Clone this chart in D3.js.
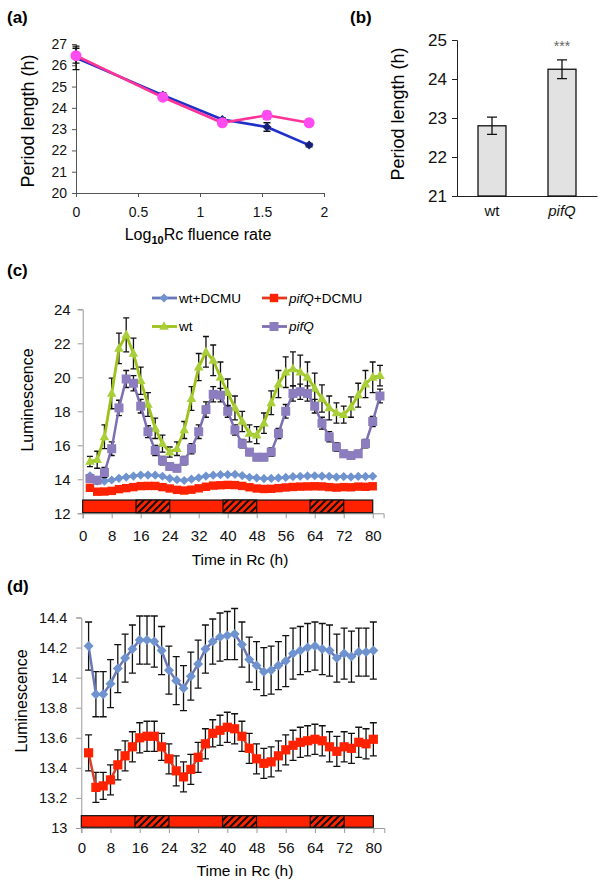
<!DOCTYPE html>
<html>
<head>
<meta charset="utf-8">
<script src="https://cdn.jsdelivr.net/npm/d3@7"></script>
<style>
  body { margin: 0; background: #fff; }
  svg { font-family: "Liberation Sans", Arial, sans-serif; }
</style>
</head>
<body>
<svg id="fig" width="604" height="888"></svg>
<script>
// ---- (a) period vs fluence
const fluence = [0, 0.7, 1.18, 1.54, 1.88];
const wtPeriod = [26.35, 24.6, 23.45, 23.1, 22.25];
const wtPeriodErr = [0.55, 0.1, 0.08, 0.2, 0.08];
const pifPeriod = [26.45, 24.5, 23.3, 23.65, 23.3];
const pifPeriodErr = [0.35, 0.1, 0.08, 0.18, 0.08];
const fluenceTicks = [0, 0.5, 1, 1.5, 2];

// ---- (b) mean period
const genotypes = ["wt", "pifQ"];
const meanPeriod = [22.8, 24.25];
const meanPeriodErr = [0.22, 0.24];

// ---- (c) luminescence traces
const timeC = [2, 4, 6, 8, 10, 12, 14, 16, 18, 20, 22, 24, 26, 28, 30, 32, 34, 36, 38, 40,
  42, 44, 46, 48, 50, 52, 54, 56, 58, 60, 62, 64, 66, 68, 70, 72, 74, 76, 78, 80, 82];
const wtLum = [15.05, 15.15, 16.5, 19.05, 21.7, 22.5, 21.4, 19.8, 18.4, 17.0,
  16.1, 15.6, 15.8, 16.9, 18.75, 20.6, 21.5, 21.0, 20.0, 19.1,
  18.2, 17.4, 16.7, 16.6, 17.3, 18.5, 19.6, 20.3, 20.5, 20.3,
  20.0, 19.35, 18.75, 18.2, 17.9, 17.8, 18.25, 18.95, 19.6, 20.0, 20.1];
const wtLumErr = [0.3, 0.5, 0.7, 0.9, 0.9, 1.0, 0.9, 0.8, 0.7, 0.6,
  0.5, 0.3, 0.4, 0.5, 0.7, 0.8, 0.9, 0.9, 0.9, 0.8,
  0.7, 0.6, 0.5, 0.5, 0.6, 0.7, 0.8, 0.9, 1.0, 1.0,
  0.9, 0.9, 0.8, 0.7, 0.6, 0.5, 0.6, 0.7, 0.8, 0.9, 0.6];
const pifLum = [14.05, 13.95, 14.4, 15.8, 18.2, 19.9, 19.65, 18.3, 16.8, 15.7,
  15.1, 14.75, 14.65, 15.1, 15.8, 16.8, 18.1, 19.0, 18.95, 18.0,
  16.9, 16.1, 15.6, 15.3, 15.3, 15.6, 16.7, 18.0, 19.05, 19.15,
  19.05, 18.3, 17.3, 16.5, 15.9, 15.5, 15.4, 15.5, 16.1, 17.4, 18.9];
const pifLumErr = [0.2, 0.2, 0.3, 0.4, 0.45, 0.5, 0.45, 0.4, 0.35, 0.3,
  0.25, 0.2, 0.2, 0.25, 0.3, 0.4, 0.45, 0.45, 0.4, 0.35,
  0.3, 0.25, 0.2, 0.2, 0.2, 0.25, 0.3, 0.4, 0.45, 0.45,
  0.45, 0.4, 0.35, 0.3, 0.25, 0.2, 0.2, 0.2, 0.25, 0.3, 0.4];

// ---- (d) DCMU traces (also shown in c)
const timeD = [2, 4, 6, 8, 10, 12, 14, 16, 18, 20, 22, 24, 26, 28, 30, 32, 34, 36, 38, 40,
  42, 44, 46, 48, 50, 52, 54, 56, 58, 60, 62, 64, 66, 68, 70, 72, 74, 76, 78, 80];
const wtDcmu = [14.21, 13.89, 13.89, 13.96, 14.06, 14.13, 14.19, 14.25, 14.25, 14.24,
  14.18, 14.05, 13.98, 13.93, 14.01, 14.09, 14.19, 14.24, 14.27, 14.28,
  14.29, 14.22, 14.12, 14.08, 14.04, 14.05, 14.08, 14.11, 14.16, 14.18,
  14.20, 14.21, 14.19, 14.18, 14.13, 14.16, 14.14, 14.17, 14.17, 14.18];
const wtDcmuErr = [0.16, 0.15, 0.15, 0.16, 0.16, 0.16, 0.16, 0.16, 0.16, 0.17,
  0.16, 0.16, 0.16, 0.15, 0.16, 0.16, 0.16, 0.15, 0.16, 0.16,
  0.17, 0.15, 0.15, 0.16, 0.16, 0.16, 0.16, 0.17, 0.17, 0.16,
  0.16, 0.16, 0.17, 0.17, 0.16, 0.17, 0.17, 0.16, 0.16, 0.19];
const pifDcmu = [13.50, 13.27, 13.28, 13.32, 13.42, 13.48, 13.54, 13.60, 13.61, 13.61,
  13.54, 13.46, 13.38, 13.34, 13.39, 13.47, 13.56, 13.63, 13.65, 13.67,
  13.66, 13.61, 13.53, 13.46, 13.43, 13.44, 13.48, 13.52, 13.55, 13.57,
  13.58, 13.59, 13.58, 13.54, 13.51, 13.54, 13.53, 13.57, 13.56, 13.59];
const pifDcmuErr = [0.12, 0.1, 0.09, 0.1, 0.1, 0.1, 0.1, 0.1, 0.1, 0.1,
  0.09, 0.1, 0.1, 0.1, 0.1, 0.1, 0.1, 0.09, 0.1, 0.1,
  0.1, 0.1, 0.1, 0.1, 0.1, 0.1, 0.1, 0.1, 0.1, 0.1,
  0.1, 0.1, 0.1, 0.1, 0.1, 0.1, 0.1, 0.1, 0.1, 0.11];

const timeTicks = [0, 8, 16, 24, 32, 40, 48, 56, 64, 72, 80];
const darkPeriods = [[14.7, 24], [38.7, 48], [62.7, 72]];

const RED = "#ff2200";
const svg = d3.select("#fig");

// hatch for the dark intervals
const pat = svg.append("defs").append("pattern")
  .attr("id", "hatch").attr("patternUnits", "userSpaceOnUse")
  .attr("width", 7).attr("height", 7);
pat.append("rect").attr("width", 7).attr("height", 7).attr("fill", RED);
pat.append("path").attr("d", "M0,7L7,0M-1,1L1,-1M6,8L8,6")
  .attr("stroke", "#111").attr("stroke-width", 2);

function marker(type, r) {
  if (type === "diamond") return `M0,${-r}L${r},0L0,${r}L${-r},0Z`;
  if (type === "square") return `M${-r},${-r}H${r}V${r}H${-r}Z`;
  if (type === "triangle") return `M0,${-r * 1.1}L${r},${r * 0.7}L${-r},${r * 0.7}Z`;
  return `M${r},0A${r},${r} 0 1,1 ${-r},0A${r},${r} 0 1,1 ${r},0Z`;
}

function errorBars(g, x, y, xs, ys, es, cap) {
  const pts = xs.map((t, i) => ({ t, v: ys[i], e: es[i] }));
  const eg = g.append("g").attr("stroke", "#111").attr("stroke-width", 1.3).attr("fill", "none");
  eg.selectAll("path").data(pts).join("path")
    .attr("d", d => {
      const cx = x(d.t), top = y(d.v + d.e), bot = y(d.v - d.e);
      return `M${cx},${top}V${bot}M${cx - cap},${top}H${cx + cap}M${cx - cap},${bot}H${cx + cap}`;
    });
}

function series(g, x, y, xs, ys, o) {
  const pts = xs.map((t, i) => [t, ys[i]]);
  g.append("path").datum(pts)
    .attr("fill", "none").attr("stroke", o.line).attr("stroke-width", o.lw)
    .attr("stroke-linejoin", "round")
    .attr("d", d3.line().x(d => x(d[0])).y(d => y(d[1])));
  g.append("g").selectAll("path").data(pts).join("path")
    .attr("transform", d => `translate(${x(d[0])},${y(d[1])})`)
    .attr("d", marker(o.shape, o.r))
    .attr("fill", o.fill);
}

function styleAxis(g, color, fs) {
  g.select(".domain").attr("stroke", color);
  g.selectAll(".tick line").attr("stroke", color);
  g.selectAll(".tick text").attr("fill", "#111").attr("font-size", fs);
  g.attr("font-family", null);
}

function panelLabel(t, px, py) {
  svg.append("text").attr("x", px).attr("y", py)
    .attr("font-size", 17).attr("font-weight", "bold").text(t);
}

function yTitle(t, px, py, fs) {
  svg.append("text").attr("transform", `translate(${px},${py}) rotate(-90)`)
    .attr("text-anchor", "middle").attr("font-size", fs).text(t);
}

// ================= (a)
{
  const x = d3.scaleLinear().domain([0, 2]).range([76, 324]);
  const y = d3.scaleLinear().domain([20, 27]).range([193, 44]);
  const g = svg.append("g");

  g.append("g").attr("transform", "translate(76,0)")
    .call(d3.axisLeft(y).ticks(7).tickSize(4).tickPadding(5).tickFormat(d3.format("d")))
    .call(a => styleAxis(a, "#555", 14));
  g.append("g").attr("transform", "translate(0,193)")
    .call(d3.axisBottom(x).tickValues(fluenceTicks).tickSize(4).tickPadding(10).tickFormat(d => d))
    .call(a => styleAxis(a, "#555", 14));

  errorBars(g, x, y, fluence, wtPeriod, wtPeriodErr, 3.5);
  series(g, x, y, fluence, wtPeriod, { line: "#1f2fc8", lw: 2.6, shape: "diamond", r: 4.5, fill: "#16207a" });
  errorBars(g, x, y, fluence, pifPeriod, pifPeriodErr, 3.5);
  series(g, x, y, fluence, pifPeriod, { line: "#ff3399", lw: 2.6, shape: "circle", r: 5.5, fill: "#ff4cf0" });

  const xt = svg.append("text").attr("x", 198).attr("y", 240)
    .attr("text-anchor", "middle").attr("font-size", 16);
  xt.append("tspan").text("Log");
  xt.append("tspan").attr("font-size", 11).attr("font-weight", "bold").attr("dy", 4).text("10");
  xt.append("tspan").attr("dy", -4).text("Rc fluence rate");

  yTitle("Period length (h)", 34, 121, 18);
  panelLabel("(a)", 7, 23);
}

// ================= (b)
{
  const x = d3.scaleBand().domain(genotypes).range([457, 597]).paddingInner(0.6).paddingOuter(0.3);
  const y = d3.scaleLinear().domain([21, 25]).range([196, 40]);
  const g = svg.append("g");

  g.append("g").attr("transform", "translate(457,0)")
    .call(d3.axisLeft(y).ticks(4).tickSize(5).tickPadding(5).tickFormat(d3.format("d")))
    .call(a => styleAxis(a, "#222", 17));
  g.append("g").attr("transform", "translate(0,196)")
    .call(d3.axisBottom(x).tickSize(0).tickPadding(9))
    .call(a => styleAxis(a, "#222", 15))
    .call(a => a.selectAll(".tick text").attr("font-style", d => d === "pifQ" ? "italic" : null));

  g.selectAll("rect.bar").data(genotypes).join("rect").attr("class", "bar")
    .attr("x", d => x(d)).attr("width", x.bandwidth())
    .attr("y", (d, i) => y(meanPeriod[i]))
    .attr("height", (d, i) => y(21) - y(meanPeriod[i]))
    .attr("fill", "#e2e2e2").attr("stroke", "#111").attr("stroke-width", 1.3);

  errorBars(g, d => x(d) + x.bandwidth() / 2, y, genotypes, meanPeriod, meanPeriodErr, 5);

  g.append("text").attr("x", x("pifQ") + x.bandwidth() / 2).attr("y", y(24.72))
    .attr("text-anchor", "middle").attr("font-size", 14).attr("fill", "#666").text("***");

  yTitle("Period length (h)", 404, 114, 18);
  panelLabel("(b)", 350, 23);
}

// light / dark bar along the bottom of (c) and (d)
function lightBar(g, x, y, lo, hi) {
  g.append("rect").attr("x", x(0)).attr("width", x(80) - x(0))
    .attr("y", y(hi)).attr("height", y(lo) - y(hi))
    .attr("fill", RED).attr("stroke", "#111").attr("stroke-width", 1.2);
  g.selectAll("rect.dark").data(darkPeriods).join("rect").attr("class", "dark")
    .attr("x", d => x(d[0])).attr("width", d => x(d[1]) - x(d[0]))
    .attr("y", y(hi)).attr("height", y(lo) - y(hi))
    .attr("fill", "url(#hatch)").attr("stroke", "#111").attr("stroke-width", 1.2);
}

function timeTitle(px, py) {
  svg.append("text").attr("x", px).attr("y", py).attr("text-anchor", "middle")
    .attr("font-size", 15.5).text("Time in Rc (h)");
}

// ================= (c)
{
  const x = d3.scaleLinear().domain([0, 83]).range([82.7, 383.6]);
  const y = d3.scaleLinear().domain([12, 24]).range([513.3, 309.3]);
  const g = svg.append("g");

  g.append("g").attr("transform", "translate(82.7,0)")
    .call(d3.axisLeft(y).tickValues([12, 14, 16, 18, 20, 22, 24]).tickSize(5).tickPadding(7))
    .call(a => styleAxis(a, "#999", 15));
  g.append("g").attr("transform", "translate(0,513.3)")
    .call(d3.axisBottom(x).tickValues(timeTicks).tickSize(5).tickPadding(12))
    .call(a => styleAxis(a, "#999", 15));

  lightBar(g, x, y, 12.035, 12.78);

  series(g, x, y, timeD, wtDcmu, { line: "#6a78b8", lw: 2.5, shape: "diamond", r: 4.6, fill: "#6f93cf" });
  series(g, x, y, timeD, pifDcmu, { line: "#e23a22", lw: 2.5, shape: "square", r: 4.2, fill: RED });
  errorBars(g, x, y, timeC, wtLum, wtLumErr, 3);
  series(g, x, y, timeC, wtLum, { line: "#9dc31a", lw: 2.8, shape: "triangle", r: 4.8, fill: "#a9cf3a" });
  errorBars(g, x, y, timeC, pifLum, pifLumErr, 3);
  series(g, x, y, timeC, pifLum, { line: "#7d6fb3", lw: 2.5, shape: "square", r: 4.5, fill: "#8c7dbf" });

  // legend
  const legend = [
    { lx: 152, ly: 298, line: "#6a78b8", shape: "diamond", r: 4.6, fill: "#6f93cf", mx: 164, a: "", b: "wt+DCMU" },
    { lx: 262, ly: 298, line: "#e23a22", shape: "square", r: 4.2, fill: RED, mx: 274, a: "pifQ", b: "+DCMU" },
    { lx: 152, ly: 326.5, line: "#9dc31a", shape: "triangle", r: 4.8, fill: "#a9cf3a", mx: 164, a: "", b: "wt" },
    { lx: 262, ly: 326.5, line: "#7d6fb3", shape: "square", r: 4.5, fill: "#8c7dbf", mx: 274, a: "pifQ", b: "" }
  ];
  const lg = svg.append("g").selectAll("g").data(legend).join("g");
  lg.append("line").attr("x1", d => d.lx).attr("x2", d => d.lx + 25)
    .attr("y1", d => d.ly).attr("y2", d => d.ly)
    .attr("stroke", d => d.line).attr("stroke-width", 2.8);
  lg.append("path").attr("transform", d => `translate(${d.mx},${d.ly})`)
    .attr("d", d => marker(d.shape, d.r)).attr("fill", d => d.fill);
  const lt = lg.append("text").attr("x", d => d.lx + 27).attr("y", d => d.ly + 4.6).attr("font-size", 13.5);
  lt.append("tspan").attr("font-style", "italic").text(d => d.a);
  lt.append("tspan").text(d => d.b);

  yTitle("Luminescence", 33, 400, 16);
  timeTitle(240, 565);
  panelLabel("(c)", 7, 276);
}

// ================= (d)
{
  const x = d3.scaleLinear().domain([0, 83]).range([81.3, 384.3]);
  const y = d3.scaleLinear().domain([13, 14.4]).range([828, 617.5]);
  const g = svg.append("g");

  g.append("g").attr("transform", "translate(81.3,0)")
    .call(d3.axisLeft(y).tickValues([13, 13.2, 13.4, 13.6, 13.8, 14, 14.2, 14.4])
      .tickSize(5).tickPadding(9).tickFormat(d => String(+d.toFixed(1))))
    .call(a => styleAxis(a, "#999", 14.5));
  g.append("g").attr("transform", "translate(0,828)")
    .call(d3.axisBottom(x).tickValues(timeTicks).tickSize(5).tickPadding(9))
    .call(a => styleAxis(a, "#999", 15));

  lightBar(g, x, y, 13.005, 13.082);

  errorBars(g, x, y, timeD, wtDcmu, wtDcmuErr, 3.5);
  series(g, x, y, timeD, wtDcmu, { line: "#6a78b8", lw: 2.5, shape: "diamond", r: 5, fill: "#6f93cf" });
  errorBars(g, x, y, timeD, pifDcmu, pifDcmuErr, 3.5);
  series(g, x, y, timeD, pifDcmu, { line: "#d8402a", lw: 2.5, shape: "square", r: 4.6, fill: RED });

  yTitle("Luminescence", 27, 701, 16);
  timeTitle(245, 876);
  panelLabel("(d)", 7, 592);
}
</script>
</body>
</html>
